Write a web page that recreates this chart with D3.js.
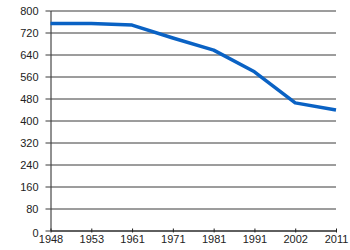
<!DOCTYPE html>
<html><head><meta charset="utf-8">
<script src="https://cdn.jsdelivr.net/npm/d3@7"></script>
<style>body{margin:0;background:#fff}svg{display:block}</style>
</head><body><svg id="c" width="350" height="250"></svg>
<script>
const years = ["1948","1953","1961","1971","1981","1991","2002","2011"];
const values = [753, 753, 747, 700, 656, 577, 464, 438];
const yTicks = [0,80,160,240,320,400,480,560,640,720,800];

const svg = d3.select("#c");
const mLeft = 50.5, mRight = 336, mTop = 10.5, mBottom = 230.5;
const x = d3.scalePoint().domain(years).range([mLeft, mRight]).padding(0);
const y = d3.scaleLinear().domain([0, 800]).range([mBottom, mTop]);

// gridlines + y ticks
const ya = svg.append("g").attr("transform", `translate(${mLeft},0)`)
  .call(d3.axisLeft(y).tickValues(yTicks).tickSize(5).tickSizeOuter(0).tickPadding(7));
ya.selectAll(".tick line").clone().attr("x2", mRight - mLeft);
ya.selectAll("line").attr("stroke", "#3a3a3a");
ya.select(".domain").attr("stroke", "#222");
ya.selectAll("text").attr("font-family", "Liberation Sans, Arial, sans-serif").attr("font-size", 11).attr("fill", "#222");
ya.selectAll(".tick").filter(d => d === 0).select("text").attr("dy", "0.55em");

// x axis
const xa = svg.append("g").attr("transform", `translate(0,${mBottom})`)
  .call(d3.axisBottom(x).tickSize(2).tickSizeOuter(0).tickPadding(3));
xa.selectAll(".tick line").attr("y1", -2).attr("stroke", "#222");
xa.select(".domain").attr("stroke", "#222");
xa.selectAll("text").attr("font-family", "Liberation Sans, Arial, sans-serif").attr("font-size", 11).attr("fill", "#222");

// line
const line = d3.line().x((d, i) => x(years[i])).y(d => y(d));
svg.append("path").datum(values).attr("d", line)
  .attr("fill", "none").attr("stroke", "#0a62c4").attr("stroke-width", 3.5)
  .attr("stroke-linejoin", "round");
</script></body></html>
